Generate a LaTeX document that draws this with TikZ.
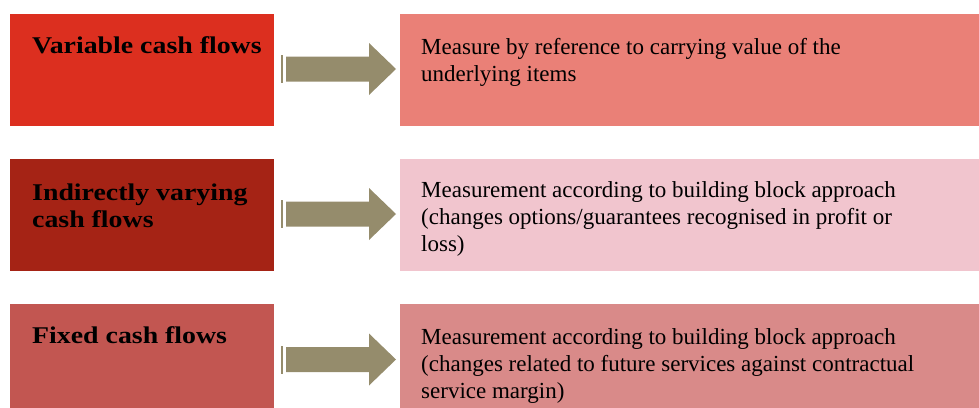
\documentclass[tikz,border=0pt]{standalone}
\usepackage{fontspec}
\setmainfont{Liberation Serif}
\newfontfamily\widefont[FakeStretch=1.16]{Liberation Serif}
\definecolor{leftA}{RGB}{220,47,31}
\definecolor{leftB}{RGB}{165,35,21}
\definecolor{leftC}{RGB}{194,86,81}
\definecolor{rightA}{RGB}{234,128,119}
\definecolor{rightB}{RGB}{241,197,206}
\definecolor{rightC}{RGB}{217,138,137}
\definecolor{arrowc}{RGB}{149,140,108}
\tikzset{
  box/.style={draw=none, rectangle, inner sep=0pt, anchor=north west},
  lefttext/.style={anchor=base west, inner sep=0pt, align=left, font=\widefont\fontsize{24}{27}\selectfont\bfseries},
  righttext/.style={anchor=base west, inner sep=0pt, align=left, font=\fontsize{23}{27}\selectfont},
  bigarrow/.style={fill=arrowc, draw=none}
}
\newcommand{\flowarrow}[1]{%
  \fill[arrowc] (281,#1-14) rectangle (283.3,#1+14);
  \fill[arrowc] (286,#1-12.5) -- (369,#1-12.5) -- (369,#1-26) -- (396,#1) -- (369,#1+26) -- (369,#1+12.5) -- (286,#1+12.5) -- cycle;
}
\begin{document}
\begin{tikzpicture}[x=1pt,y=-1pt]
\useasboundingbox (0,0) rectangle (979,407);
% left boxes
\node[box, fill=leftA, minimum width=264pt, minimum height=112pt] (L1) at (10,14) {};
\node[box, fill=leftB, minimum width=264pt, minimum height=112pt] (L2) at (10,159) {};
\node[box, fill=leftC, minimum width=264pt, minimum height=110pt] (L3) at (10,304) {};
% right boxes
\node[box, fill=rightA, minimum width=579pt, minimum height=112pt] (R1) at (400,14) {};
\node[box, fill=rightB, minimum width=579pt, minimum height=112pt] (R2) at (400,159) {};
\node[box, fill=rightC, minimum width=579pt, minimum height=110pt] (R3) at (400,304) {};
% arrows
\flowarrow{69}
\flowarrow{214}
\flowarrow{359.5}
% texts (base anchor = baseline of last line)
\node[lefttext] (t1) at (32,53) {Variable cash flows};
\node[lefttext] (t2) at (32,227) {Indirectly varying\\cash flows};
\node[lefttext] (t3) at (32,343) {Fixed cash flows};
\node[righttext] (r1) at (421,81) {Measure by reference to carrying value of the\\underlying items};
\node[righttext] (r2) at (421,251) {Measurement according to building block approach\\(changes options/guarantees recognised in profit or\\loss)};
\node[righttext] (r3) at (421,398) {Measurement according to building block approach\\(changes related to future services against contractual\\service margin)};
\end{tikzpicture}
\end{document}
